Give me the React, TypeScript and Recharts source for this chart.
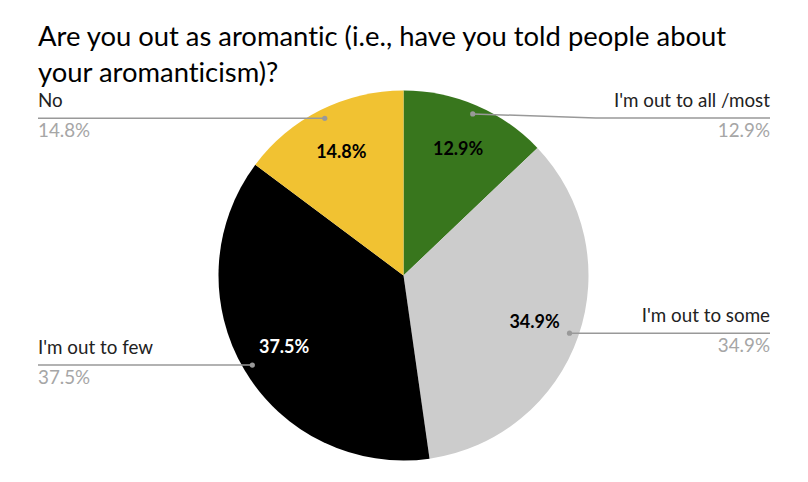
import React from "react";
import { PieChart, Pie, Cell } from "recharts";

const titleLines = [
  "Are you out as aromantic (i.e., have you told people about",
  "your aromanticism)?",
];
const categories = ["I'm out to all /most", "I'm out to some", "I'm out to few", "No"];
const values = [12.9, 34.9, 37.5, 14.8];
const colors = ["#38761d", "#cccccc", "#000000", "#f1c232"];
const insideTextColors = ["#000000", "#000000", "#ffffff", "#000000"];

const data = categories.map((name, i) => ({ name, value: values[i] }));

const FONT = "Lato, 'Open Sans', sans-serif";
const NO_LIG = { fontVariantLigatures: "none" as const };
const RAD = Math.PI / 180;
const LEFT_X = 38;
const RIGHT_X = 770;
const MIN_LINE_Y = 118;

function renderLabel(props: any) {
  const { cx, cy, midAngle, outerRadius, index } = props;
  const cos = Math.cos(-midAngle * RAD);
  const sin = Math.sin(-midAngle * RAD);
  const rIn = outerRadius * 0.75;
  const ix = cx + rIn * cos;
  const iy = cy + rIn * sin;
  const rDot = outerRadius * 0.95;
  const dx = cx + rDot * cos;
  const dy = cy + rDot * sin;
  const right = cos >= 0;
  const lineY = Math.max(dy, MIN_LINE_Y);
  const endX = right ? RIGHT_X : LEFT_X;
  const bendX = right ? dx + 123 : dx - 123;
  const pts =
    lineY !== dy
      ? `${dx},${dy} ${bendX},${lineY} ${endX},${lineY}`
      : `${dx},${dy} ${endX},${lineY}`;
  const pct = values[index].toFixed(1) + "%";
  const anchor = right ? "end" : "start";
  return (
    <g key={`lbl-${index}`}>
      <text
        x={ix}
        y={iy}
        textAnchor="middle"
        dominantBaseline="central"
        fill={insideTextColors[index]}
        fontFamily={FONT}
        fontWeight={700}
        fontSize={18}
        style={NO_LIG}
      >
        {pct}
      </text>
      <polyline points={pts} fill="none" stroke="#999999" strokeWidth={1.5} />
      <circle cx={dx} cy={dy} r={2.6} fill="#999999" />
      <text
        x={endX}
        y={lineY - 11}
        textAnchor={anchor}
        fill="#222222"
        fontFamily={FONT}
        fontSize={18.8}
        style={NO_LIG}
      >
        {categories[index]}
      </text>
      <text
        x={endX}
        y={lineY + 19}
        textAnchor={anchor}
        fill="#a6a6a6"
        fontFamily={FONT}
        fontSize={18.8}
        style={NO_LIG}
      >
        {pct}
      </text>
    </g>
  );
}

export default function App() {
  return (
    <div
      style={{
        position: "absolute",
        left: 0,
        top: 0,
        width: 808,
        height: 482,
        background: "#ffffff",
      }}
    >
      <PieChart width={808} height={482} margin={{ top: 0, right: 0, bottom: 0, left: 0 }}>
        <Pie
          data={data}
          dataKey="value"
          nameKey="name"
          cx={403.5}
          cy={275.5}
          outerRadius={185}
          startAngle={90}
          endAngle={-270}
          stroke="none"
          label={renderLabel}
          labelLine={false}
          isAnimationActive={false}
        >
          {data.map((d, i) => (
            <Cell key={d.name} fill={colors[i]} />
          ))}
        </Pie>
      </PieChart>
      <svg
        width={808}
        height={100}
        style={{ position: "absolute", left: 0, top: 0, pointerEvents: "none" }}
      >
        {titleLines.map((t, i) => (
          <text
            key={i}
            x={38}
            y={46 + i * 36}
            fill="#000000"
            fontFamily={FONT}
            fontSize={27.4}
            style={NO_LIG}
          >
            {t}
          </text>
        ))}
      </svg>
    </div>
  );
}
